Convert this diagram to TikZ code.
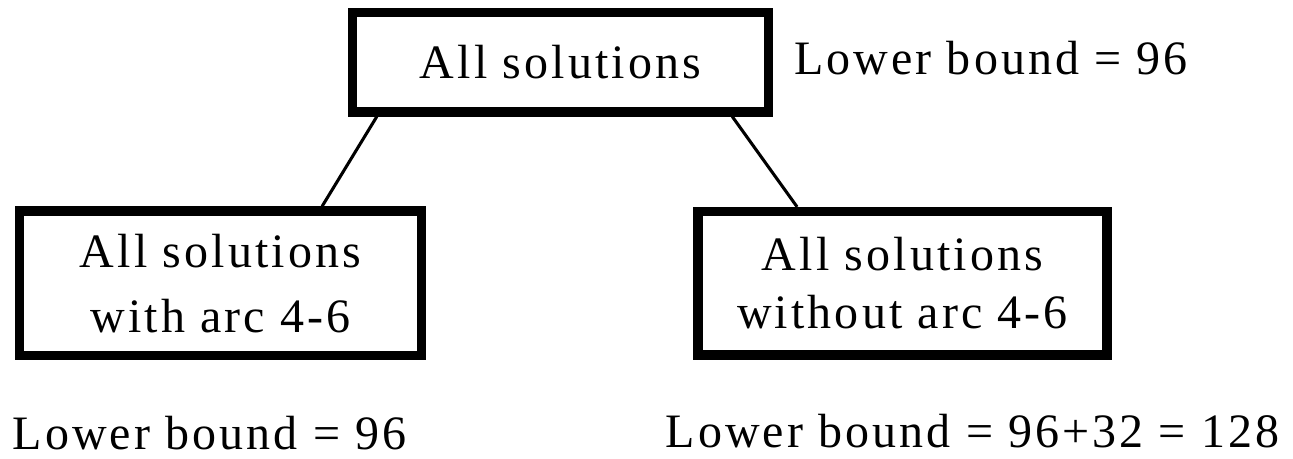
\documentclass[tikz,border=0pt]{standalone}
\usepackage{fontspec}
\setmainfont{Liberation Serif}[LetterSpace=6.5]
\usetikzlibrary{calc}
\begin{document}
\begin{tikzpicture}[x=0.75pt,y=-0.75pt,
  box/.style={draw, rectangle, line width=6.9pt, inner sep=0pt, align=center},
  lbl/.style={inner sep=0pt, anchor=base, font=\fontsize{36}{48}\selectfont},
  conn/.style={line width=2.3pt}]
\useasboundingbox (0,0) rectangle (1293,459);

% decision tree boxes
\node[box, minimum width=312pt, minimum height=74.6pt,
      font=\fontsize{36}{48}\selectfont] (root) at (560.5,62.25) {All solutions};
\node[box, minimum width=301.5pt, minimum height=108.4pt,
      font=\fontsize{36}{48.75}\selectfont] (with) at (220.5,283.25)
      {All solutions\\with arc 4-6};
\node[box, minimum width=306.75pt, minimum height=107.6pt,
      font=\fontsize{36}{43.5}\selectfont] (without) at (902.5,283.25)
      {All solutions\\without arc 4-6};

% branches
\draw[conn] ($(root.south west)!0.068!(root.south east)$) --
            ($(with.north west)!0.747!(with.north east)$);
\draw[conn] ($(root.south west)!0.904!(root.south east)$) --
            ($(without.north west)!0.248!(without.north east)$);

% bounds
\node[lbl] (rootlb) at (991,75) {Lower bound = 96};
\node[lbl] (withlb) at (209.5,450) {Lower bound = 96};
\node[lbl] (withoutlb) at (972.5,448) {Lower bound = 96+32 = 128};
\end{tikzpicture}
\end{document}
